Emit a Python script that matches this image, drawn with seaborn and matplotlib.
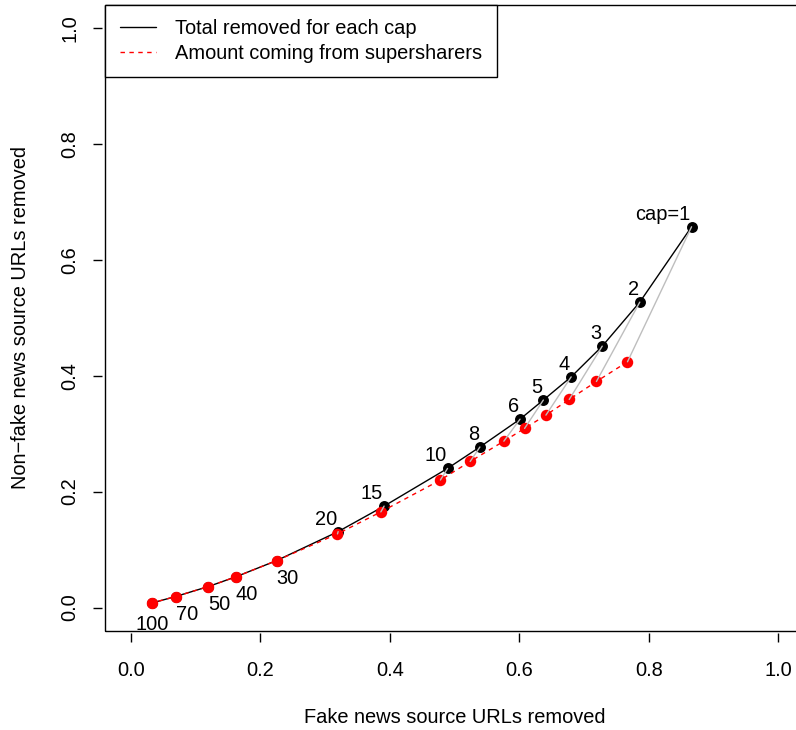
import matplotlib
matplotlib.use("Agg")
import matplotlib.pyplot as plt
from matplotlib.lines import Line2D
from matplotlib.patches import Rectangle
import pandas as pd
import seaborn as sns

# Share of URLs removed under each per-user cap
caps = [1, 2, 3, 4, 5, 6, 8, 10, 15, 20, 30, 40, 50, 70, 100]
cap_labels = ["cap=1", "2", "3", "4", "5", "6", "8", "10", "15", "20",
              "30", "40", "50", "70", "100"]
total_fake = [0.866, 0.786, 0.728, 0.680, 0.637, 0.601, 0.539, 0.489,
              0.391, 0.320, 0.225, 0.162, 0.119, 0.069, 0.033]
total_nonfake = [0.657, 0.527, 0.451, 0.398, 0.358, 0.325, 0.277, 0.240,
                 0.175, 0.131, 0.081, 0.053, 0.036, 0.019, 0.008]
super_fake = [0.767, 0.719, 0.677, 0.641, 0.608, 0.576, 0.524, 0.478,
              0.386, 0.319, 0.225, 0.162, 0.119, 0.069, 0.033]
super_nonfake = [0.424, 0.390, 0.359, 0.332, 0.309, 0.287, 0.252, 0.220,
                 0.165, 0.127, 0.081, 0.053, 0.036, 0.019, 0.008]
ticks = [0.0, 0.2, 0.4, 0.6, 0.8, 1.0]
tick_labels = ["0.0", "0.2", "0.4", "0.6", "0.8", "1.0"]

# label placement (offset points) for each cap annotation
label_ha = ["right"] * 10 + ["left"] * 4 + ["center"]
label_dx = [-0.7] * 10 + [0.0] * 5
label_dy = [5.0] * 10 + [-16.6] * 4 + [-19.4]

sns.set_style("ticks", {"axes.edgecolor": "black", "text.color": "black",
                        "xtick.color": "black", "ytick.color": "black",
                        "axes.labelcolor": "black"})
plt.rcParams["font.family"] = ["Liberation Sans", "DejaVu Sans"]
FS = 14.4

total = pd.DataFrame({"cap": caps, "x": total_fake, "y": total_nonfake})
supers = pd.DataFrame({"cap": caps, "x": super_fake, "y": super_nonfake})
links = pd.concat([total, supers], ignore_index=True)

fig = plt.figure(figsize=(7.96, 7.30), dpi=100)
ax = fig.add_axes([0.13204, 0.13603, 0.87827, 0.85740])

sns.lineplot(data=total, x="x", y="y", sort=False, estimator=None,
             color="black", lw=1.0, ax=ax, legend=False, zorder=2)
sns.scatterplot(data=total, x="x", y="y", color="black", s=62,
                linewidth=0, ax=ax, legend=False, zorder=3)
sns.lineplot(data=supers, x="x", y="y", sort=False, estimator=None,
             color="red", lw=1.0, linestyle=(0, (3.2, 3.2)), ax=ax,
             legend=False, zorder=4)
sns.scatterplot(data=supers, x="x", y="y", color="red", s=68,
                linewidth=0, ax=ax, legend=False, zorder=5)
sns.lineplot(data=links, x="x", y="y", units="cap", estimator=None,
             color="#BEBEBE", lw=1.0, ax=ax, legend=False, zorder=6)

for i, lab in enumerate(cap_labels):
    ax.annotate(lab, (total_fake[i], total_nonfake[i]),
                xytext=(label_dx[i], label_dy[i]), textcoords="offset points",
                ha=label_ha[i], va="baseline", fontsize=FS, zorder=7)

ax.set_xlim(-0.04, 1.04)
ax.set_ylim(-0.04, 1.04)
ax.set_xticks(ticks)
ax.set_xticklabels(tick_labels)
ax.set_yticks(ticks)
ax.set_yticklabels(tick_labels)
for side in ["left", "bottom"]:
    ax.spines[side].set_position(("outward", 2))
for side in ax.spines:
    ax.spines[side].set_visible(False)
ax.add_patch(Rectangle((0, 0), 1, 1, transform=ax.transAxes, fill=False,
                       edgecolor="black", lw=1.0, clip_on=False, zorder=10))
ax.tick_params(axis="both", direction="out", length=6.2, width=1.0,
               labelsize=FS)
ax.tick_params(axis="x", pad=13.5)
ax.tick_params(axis="y", pad=10.5, labelrotation=90)
plt.setp(ax.get_yticklabels(), va="center")

ax.set_xlabel("Fake news source URLs removed", fontsize=FS)
ax.set_ylabel("Non\u2212fake news source URLs removed", fontsize=FS)
ax.xaxis.set_label_coords(0.5, -0.138)
ax.xaxis.label.set_va("center")
ax.yaxis.set_label_coords(-0.1217, 0.5)
ax.yaxis.label.set_va("center")

handles = [Line2D([], [], color="black", lw=1.0),
           Line2D([], [], color="red", lw=1.0, linestyle=(0, (3.2, 3.2)))]
leg = ax.legend(handles, ["Total removed for each cap",
                          "Amount coming from supersharers"],
                loc="upper left", bbox_to_anchor=(0, 1), borderaxespad=0,
                fancybox=False, framealpha=1, edgecolor="black",
                fontsize=FS, handlelength=1.83, handletextpad=0.95,
                borderpad=0.73, labelspacing=0.27)
leg.get_frame().set_linewidth(1.0)
leg.set_zorder(11)

fig.savefig("out.png", dpi=100)
